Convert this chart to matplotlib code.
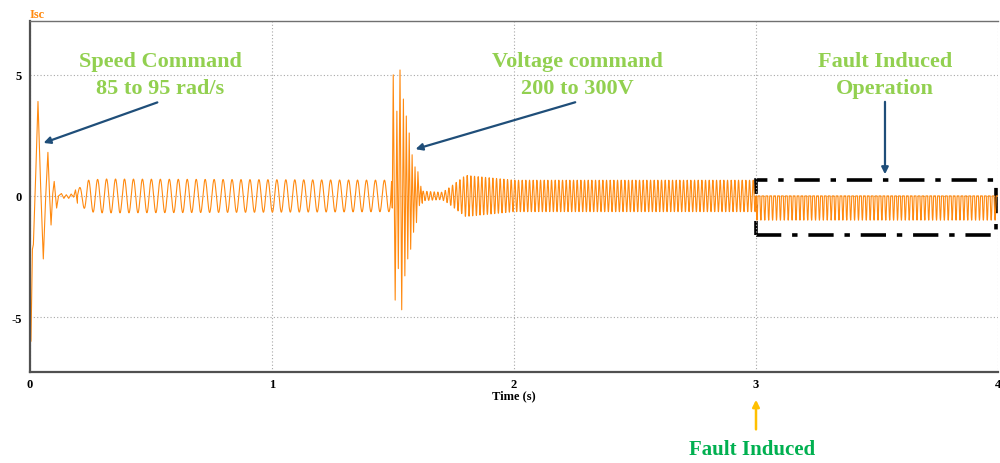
import numpy as np
import matplotlib
matplotlib.use("Agg")
import matplotlib.pyplot as plt
from matplotlib.patches import Rectangle

# -------------------------------------------------
# Data (Isc vs time)
# -------------------------------------------------

# start-up transient (speed command step): explicit extremes
start_t = [0.000, 0.000, 0.004, 0.010, 0.014, 0.024, 0.033, 0.044, 0.055, 0.065,
           0.074, 0.081, 0.087, 0.094, 0.100, 0.110, 0.118, 0.130, 0.140, 0.150,
           0.160, 0.170, 0.180, 0.188, 0.196]
start_v = [-3.0, -3.1, -6.0, -2.2, -2.0, 1.0, 3.9, 0.4, -2.6, 0.0,
           1.8, 0.0, -1.2, 0.1, 0.6, -0.5, 0.0, 0.1, -0.1, 0.05,
           -0.1, 0.08, -0.05, 0.25, -0.3]

# first steady oscillation (after speed command)
osc1_freq = 27.0
osc1_env_t = [0.20, 0.24, 0.30, 1.49]
osc1_env_a = [0.30, 0.65, 0.70, 0.65]

# voltage command transient: explicit extremes
volt_t = [1.494, 1.497, 1.501, 1.509, 1.516, 1.522, 1.529, 1.536, 1.543, 1.549,
          1.555, 1.561, 1.567, 1.573, 1.579, 1.585, 1.591, 1.597, 1.603, 1.609,
          1.615, 1.621]
volt_v = [0.6, -0.5, 5.0, -4.3, 3.5, -3.0, 5.2, -4.7, 4.0, -3.3,
          3.3, -2.6, 2.6, -2.2, 1.7, -1.5, 1.2, -1.1, 1.0, -0.4,
          0.4, -0.3]

# second oscillation (after voltage command)
osc2_freq = 66.0
osc2_env_t = [1.621, 1.70, 1.72, 1.80, 1.90, 2.00, 3.00]
osc2_env_a = [0.20, 0.15, 0.25, 0.85, 0.75, 0.65, 0.65]

# fault operation: clipped wave between 0 and fault_low
fault_freq = 62.0
fault_start = 3.0
fault_end = 4.0
fault_low = -1.0

x_ticks = [0, 1, 2, 3, 4]
y_ticks = [-5, 0, 5]

LINE = "#ff8a10"
GREEN = "#92d050"
DKGREEN = "#00b050"
BLUE = "#1f4e79"
SERIF = "Liberation Serif"

# -------------------------------------------------
# Build waveform
# -------------------------------------------------

def carrier(t0, t1, freq, env_t, env_a, dt=0.0002):
    t = np.arange(t0, t1, dt)
    amp = np.interp(t, env_t, env_a)
    return t, amp * np.sin(2 * np.pi * freq * (t - t0))

t1, v1 = carrier(0.196, 1.49, osc1_freq, osc1_env_t, osc1_env_a)
t2, v2 = carrier(1.621, 3.0, osc2_freq, osc2_env_t, osc2_env_a)
t3 = np.arange(fault_start, fault_end, 0.0002)
v3 = fault_low * np.clip(np.sin(2 * np.pi * fault_freq * (t3 - fault_start)), 0, 1)

t_all = np.concatenate([start_t, t1, volt_t, t2, t3])
v_all = np.concatenate([start_v, v1, volt_v, v2, v3])

# -------------------------------------------------
# Plot
# -------------------------------------------------

fig = plt.figure(figsize=(10, 4.64), dpi=100)
ax = fig.add_axes([0.030, 0.196, 0.968, 0.757])

ax.plot(t_all, v_all, color=LINE, lw=0.8)

ax.set_xlim(0, 4)
ax.set_ylim(-7.27, 7.23)
ax.set_xticks(x_ticks)
ax.set_yticks(y_ticks)
ax.set_xticklabels([str(x) for x in x_ticks], family=SERIF, weight="bold", fontsize=9)
ax.set_yticklabels([str(y) for y in y_ticks], family=SERIF, weight="bold", fontsize=9)
ax.tick_params(axis="x", length=0, pad=4)
ax.tick_params(axis="y", length=0, pad=6)
ax.grid(True, color="#a8a8a8", lw=0.8, linestyle=(0, (1, 2)))

for side in ["left", "bottom"]:
    ax.spines[side].set_color("#505050")
    ax.spines[side].set_linewidth(1.6)
ax.spines["top"].set_color("#707070")
ax.spines["top"].set_linewidth(1.0)
ax.spines["right"].set_visible(False)

ax.set_xlabel("Time (s)", family=SERIF, weight="bold", fontsize=9, labelpad=0)
fig.text(0.030, 0.962, "Isc", color=LINE, family=SERIF, weight="bold", fontsize=9)

# annotations
ann = dict(color=GREEN, family=SERIF, weight="bold", fontsize=16, ha="center",
           va="center", linespacing=1.45)
fig.text(0.160, 0.837, "Speed Command\n85 to 95 rad/s", **ann)
fig.text(0.577, 0.837, "Voltage command\n200 to 300V", **ann)
fig.text(0.885, 0.837, "Fault Induced\nOperation", **ann)

arrow = dict(arrowstyle="-|>", color=BLUE, lw=1.6, mutation_scale=10)
ax.annotate("", xy=(0.045, 2.15), xytext=(0.537, 3.9), arrowprops=arrow)
ax.annotate("", xy=(1.582, 1.9), xytext=(2.264, 3.9), arrowprops=arrow)
ax.annotate("", xy=(3.533, 0.78), xytext=(3.533, 4.0), arrowprops=arrow)

ax.add_patch(Rectangle((3.0, -1.61), 0.99, 2.27, fill=False, ec="black",
                       lw=2.6, linestyle=(0, (7, 3, 1.5, 3)), clip_on=False))

# fault marker below the axis
ax.annotate("", xy=(3.0, -8.3), xytext=(3.0, -9.75),
            arrowprops=dict(arrowstyle="-|>", color="#ffc000", lw=1.8,
                            mutation_scale=10), annotation_clip=False)
fig.text(0.752, 0.030, "Fault Induced", color=DKGREEN, family=SERIF,
         weight="bold", fontsize=15, ha="center", va="center")

fig.savefig("out.png", dpi=100)
